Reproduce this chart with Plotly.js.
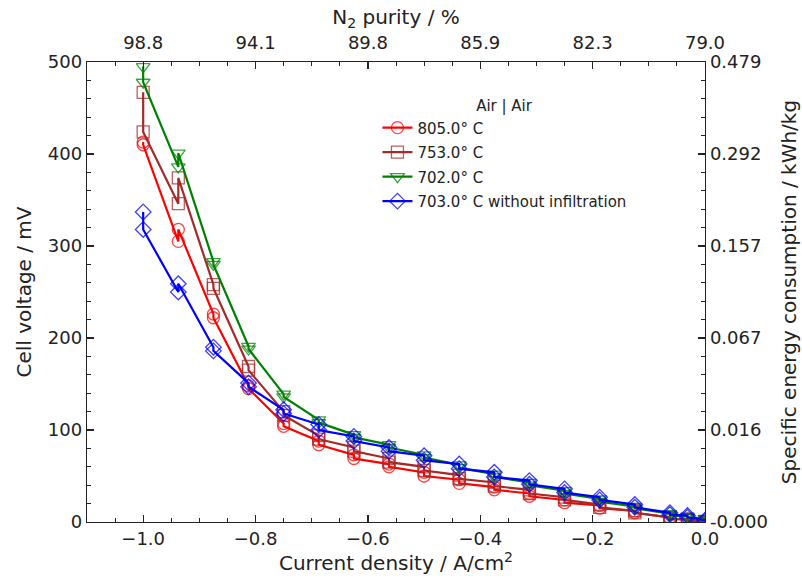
<!DOCTYPE html>
<html>
<head>
<meta charset="utf-8">
<script src="https://cdn.plot.ly/plotly-3.0.1.min.js"></script>
<style>html,body{margin:0;padding:0;background:#fff;}#chart{width:802px;height:582px;}</style>
</head>
<body>
<div id="chart"></div>
<script>
// Current density (A/cm2); each point was measured twice
const xRed   = [-1.0,-1.0,-0.9375,-0.9375,-0.875,-0.875,-0.8125,-0.8125,-0.75,-0.75,-0.6875,-0.6875,-0.625,-0.625,-0.5625,-0.5625,-0.5,-0.5,-0.4375,-0.4375,-0.375,-0.375,-0.3125,-0.3125,-0.25,-0.25,-0.1875,-0.1875,-0.125,-0.125,-0.0625,-0.0625,-0.03125,-0.03125,0,0];
const xBrown = xRed, xGreen = xRed, xBlue = xRed;

const vRed   = [413,410,305,318,226,222,148,145,107,104,88,84,73,69,63,60,54,50,46,42,38,35,31,28,24,21,18,15,12,10,5,3,3,2,0.5,0];
const vBrown = [467,424,346,374,258,254,169,165,120,116,94,90,81,77,69,65,60,56,51,47,43,39,35,31,27,24,19,16,12,10,5,3,3,2,0.5,0];
const vGreen = [495,478,386,401,283,280,191,188,139,136,111,108,95,92,84,81,73,70,62,59,52,49,43,40,34,31,25,22,17,15,9,7,6,5,4,2];
const vBlue  = [337,318,250,259,190,186,151,147,122,118,106,100,93,88,81,77,72,67,63,58,54,49,45,41,36,32,27,24,19,16,10,8,7,5,2,1];

const seriesNames = ["805.0° C","753.0° C","702.0° C","703.0° C without infiltration"];
const legendTitle = "Air | Air";

// Axis tick labels
const purityTickVals = [-1.0,-0.8,-0.6,-0.4,-0.2,0.0];
const purityTickText = ["98.8","94.1","89.8","85.9","82.3","79.0"];
const energyTickVals = [0,100,200,300,400,500];
const energyTickText = ["-0.000","0.016","0.067","0.157","0.292","0.479"];

const colors = ["#ff0000","#a52a2a","#008000","#0000ff"];
const symbols = ["circle-open","square-open","triangle-down-open","diamond-open"];
const xs = [xRed,xBrown,xGreen,xBlue];
const ys = [vRed,vBrown,vGreen,vBlue];

const traces = ys.map((v,i)=>({
  x: xs[i], y: v, type:'scatter', mode:'lines+markers', name: seriesNames[i],
  legendgroup:'g'+i,
  line:{color:colors[i], width:2.2},
  marker:{symbol:symbols[i], size:12, color:colors[i], opacity:0.75, line:{color:colors[i], width:1.3}},
  hoverinfo:'skip'
}));
// invisible helper trace so the top/right axes are drawn
traces.push({x:[-0.5], y:[250], xaxis:'x2', yaxis:'y2', mode:'markers', marker:{opacity:0}, showlegend:false, hoverinfo:'skip'});

const font = {family:"DejaVu Sans, sans-serif", color:"#222", size:18};
const common = {
  ticks:'inside', ticklen:7, tickwidth:1.2, tickcolor:'#222',
  showline:true, linecolor:'#222', linewidth:1.3, mirror:false,
  showgrid:false, zeroline:false, tickfont:{size:18, family:font.family, color:'#222'}
};

const layout = {
  width:802, height:582,
  margin:{l:87, r:97, t:62, b:60},
  paper_bgcolor:'#fff', plot_bgcolor:'#fff',
  font: font,
  showlegend:true,
  xaxis: Object.assign({}, common, {
    range:[-1.1,0], tick0:0, dtick:0.2, tickformat:'.1f',
    minor:{dtick:0.05, tick0:0, ticks:'inside', ticklen:4, tickwidth:1, tickcolor:'#222'},
    title:{text:"Current density / A/cm<sup>2</sup>", font:{size:20, family:font.family, color:'#222'}, standoff:8}
  }),
  xaxis2: Object.assign({}, common, {
    overlaying:'x', side:'top', range:[-1.1,0],
    tickmode:'array', tickvals:purityTickVals, ticktext:purityTickText,
    ticklabelstandoff:5,
    minor:{dtick:0.05, tick0:0, ticks:'inside', ticklen:4, tickwidth:1, tickcolor:'#222'},
    title:{text:"N<sub>2</sub> purity / %", font:{size:20, family:font.family, color:'#222'}, standoff:0}
  }),
  yaxis: Object.assign({}, common, {
    range:[0,500], tick0:0, dtick:100,
    minor:{dtick:20, tick0:0, ticks:'inside', ticklen:4, tickwidth:1, tickcolor:'#222'},
    title:{text:"Cell voltage / mV", font:{size:20, family:font.family, color:'#222'}, standoff:10}
  }),
  yaxis2: Object.assign({}, common, {
    overlaying:'y', side:'right', range:[0,500],
    tickmode:'array', tickvals:energyTickVals, ticktext:energyTickText,
    minor:{dtick:20, tick0:0, ticks:'inside', ticklen:4, tickwidth:1, tickcolor:'#222'},
    title:{text:"Specific energy consumption / kWh/kg", font:{size:20, family:font.family, color:'#222'}, standoff:15}
  }),
  legend:{
    x:0.47, y:0.935, xanchor:'left', yanchor:'top',
    bgcolor:'rgba(0,0,0,0)', borderwidth:0,
    font:{size:15, family:font.family, color:'#222'},
    title:{text:legendTitle, side:'top center', font:{size:15, family:font.family, color:'#222'}},
    tracegroupgap:2, itemwidth:30
  }
};

Plotly.newPlot('chart', traces, layout, {displayModeBar:false, staticPlot:true});
</script>
</body>
</html>
